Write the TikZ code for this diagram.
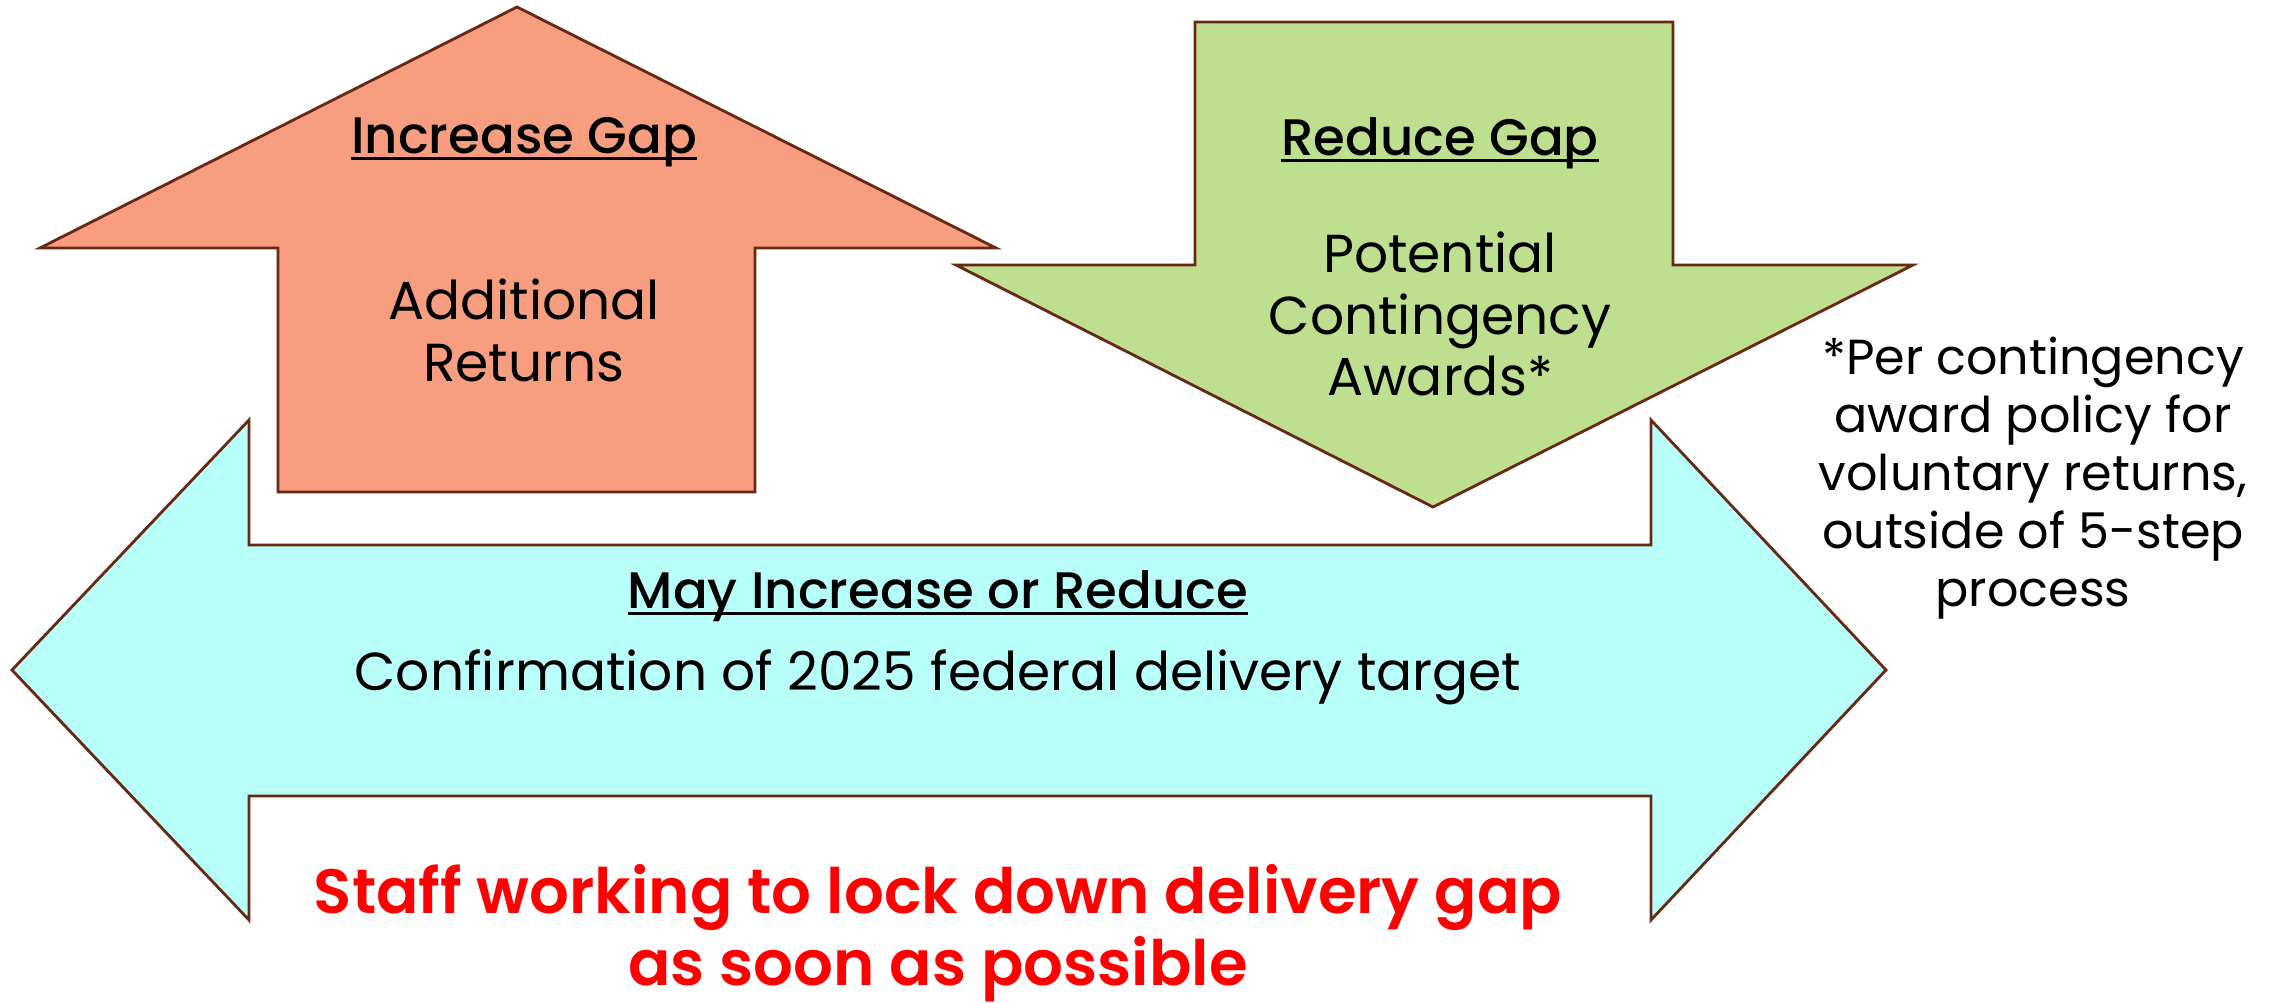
\documentclass[tikz,border=0pt]{standalone}
\usepackage{fontspec}
\setmainfont{Poppins}[BoldFont={Poppins SemiBold}]
\newfontfamily\popmed{Poppins Medium}

\definecolor{risefill}{RGB}{247,158,128}
\definecolor{dropfill}{RGB}{191,223,144}
\definecolor{bothfill}{RGB}{184,255,250}
\definecolor{edgebrown}{RGB}{105,40,20}

\newcommand\gapul[1]{\setbox0\hbox{#1}\rlap{\rule[-0.14em]{\wd0}{0.055em}}\box0}

\def\risearrow{(517,7) -- (996,248) -- (755,248) -- (755,492) -- (278,492) -- (278,248) -- (40,248) -- cycle}
\def\droparrow{(1195,22) -- (1673,22) -- (1673,265) -- (1913,265) -- (1433,507) -- (956,265) -- (1195,265) -- cycle}
\def\botharrow{(12,670) -- (249,420) -- (249,545) -- (1651,545) -- (1651,420) -- (1886,670) -- (1651,920) -- (1651,796) -- (249,796) -- (249,920) -- cycle}

\tikzset{
  shapeline/.style={draw=edgebrown, line width=0.8pt, line join=miter},
  bodytext/.style={align=center, font=\fontsize{15.2}{17.6}\selectfont},
  headtext/.style={font=\popmed\fontsize{14.6}{17.6}\selectfont},
  notetext/.style={align=center, font=\fontsize{14}{16.5}\selectfont},
  alerttext/.style={align=center, text=red, font=\bfseries\fontsize{17.8}{20.6}\selectfont}
}

\begin{document}
\begin{tikzpicture}[x=0.01cm, y=-0.01cm]
  \useasboundingbox (0,0) rectangle (2269,1003);
  % arrows
  \draw[shapeline, fill=bothfill] \botharrow;
  \draw[shapeline, fill=risefill] \risearrow;
  \draw[shapeline, fill=dropfill] \droparrow;
  % increase side
  \node[headtext, anchor=base] (risehead) at (524,153) {\gapul{Increase Gap}};
  \node[bodytext] (risebody) at (524,330) {Additional\\Returns};
  % reduce side
  \node[headtext, anchor=base] (drophead) at (1440,155) {\gapul{Reduce Gap}};
  \node[bodytext] (dropbody) at (1440,314) {Potential\\Contingency\\Awards*};
  % footnote
  \node[notetext] (dropnote) at (2033,478) {*Per contingency\\award policy for\\voluntary returns,\\outside of 5-step\\process};
  % both ways
  \node[headtext, anchor=base] (bothhead) at (938,608) {\gapul{May Increase or Reduce}};
  \node[bodytext, anchor=base] (bothbody) at (938,690) {Confirmation of 2025 federal delivery target};
  \node[alerttext] (alert) at (938,933) {Staff working to lock down delivery gap\\as soon as possible};
\end{tikzpicture}
\end{document}
